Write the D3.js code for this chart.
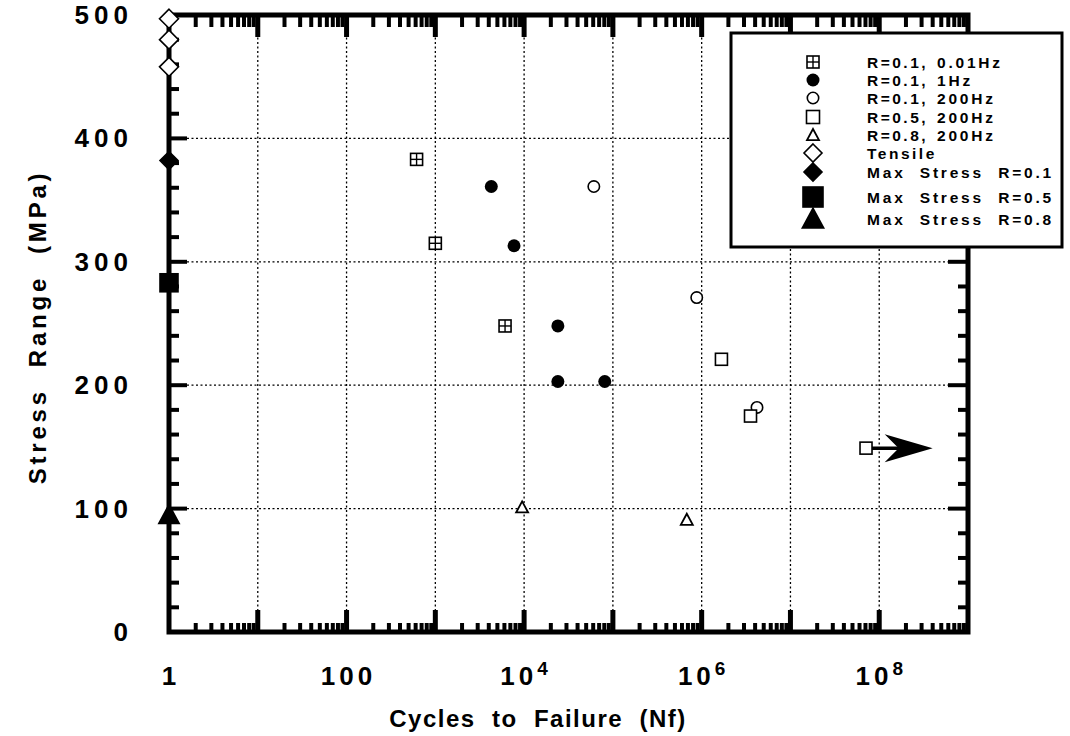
<!DOCTYPE html>
<html>
<head>
<meta charset="utf-8">
<script src="https://cdn.jsdelivr.net/npm/d3@7"></script>
<style>
  body { margin: 0; background: #fff; }
  svg text { font-family: "Liberation Sans", Arial, sans-serif; font-weight: bold; fill: #000; }
</style>
</head>
<body>
<div id="viz"></div>
<script>
// Data (cycles, stress range in MPa)
const cycles001Hz = [615, 1000, 6100]
const stress001Hz = [383, 315, 248]
const cycles1Hz = [4270, 7700, 24000, 24000, 81000]
const stress1Hz = [361, 313, 248, 203, 203]
const cycles200Hz = [61000, 880000, 4.2e6]
const stress200Hz = [361, 271, 182]
const cyclesR05 = [1.67e6, 3.55e6, 7.1e7]
const stressR05 = [221, 175, 149]
const cyclesR08 = [9500, 680000]
const stressR08 = [101, 91]
const tensileStress = [497, 480, 458]
const maxStress = [382, 283, 95]        // R=0.1, R=0.5, R=0.8 plotted at N=1
const runoutEnd = 4e8                  // arrow tip for the run-out specimen

const xLabelExps = [0, 2, 4, 6, 8]
const yTicks = [0, 100, 200, 300, 400, 500]

const legendLabels = [
  ['R=0.1,', '0.01Hz'], ['R=0.1,', '1Hz'], ['R=0.1,', '200Hz'],
  ['R=0.5,', '200Hz'], ['R=0.8,', '200Hz'], ['Tensile', ''],
  ['Max  Stress  R=0.1', ''], ['Max  Stress  R=0.5', ''], ['Max  Stress  R=0.8', '']
]

const W = 1070, H = 736
const pLeft = 169, pRight = 968, pTop = 15, pBottom = 632

var x = d3.scaleLog().domain([1, 1e9]).range([pLeft, pRight])
var y = d3.scaleLinear().domain([0, 500]).range([pBottom, pTop])

var svg = d3.select('#viz').append('svg')
    .attr('width', W).attr('height', H)

// grid
var grid = svg.append('g')
    .attr('stroke', '#000').attr('stroke-width', 1.3).attr('stroke-dasharray', '2,2.5')
d3.range(1, 9).forEach(e => {
    grid.append('line')
        .attr('x1', x(Math.pow(10, e))).attr('x2', x(Math.pow(10, e)))
        .attr('y1', pTop).attr('y2', pBottom)
})
;[100, 200, 300, 400].forEach(v => {
    grid.append('line')
        .attr('x1', pLeft).attr('x2', pRight)
        .attr('y1', y(v)).attr('y2', y(v))
})

// ticks on all four sides, pointing inward
var ticks = svg.append('g').attr('stroke', '#000')
d3.range(0, 9).forEach(e => {
    for (let m = 1; m <= 9; m++) {
        let v = m * Math.pow(10, e)
        if (v === 1) continue
        let major = m === 1
        let xx = x(v)
        ticks.append('line').attr('x1', xx).attr('x2', xx)
            .attr('y1', pBottom).attr('y2', pBottom - (major ? 22 : 9))
            .attr('stroke-width', major ? 5 : 4)
        ticks.append('line').attr('x1', xx).attr('x2', xx)
            .attr('y1', pTop).attr('y2', pTop + (major ? 22 : 12))
            .attr('stroke-width', major ? 5 : 4)
    }
})
d3.range(20, 500, 20).forEach(v => {
    let major = v % 100 === 0
    ticks.append('line').attr('x1', pLeft).attr('x2', pLeft + (major ? 18 : 10))
        .attr('y1', y(v)).attr('y2', y(v)).attr('stroke-width', 4)
    ticks.append('line').attr('x1', pRight).attr('x2', pRight - (major ? 20 : 10))
        .attr('y1', y(v)).attr('y2', y(v)).attr('stroke-width', 4)
})

// frame
svg.append('rect')
    .attr('x', pLeft).attr('y', pTop)
    .attr('width', pRight - pLeft).attr('height', pBottom - pTop)
    .attr('fill', 'none').attr('stroke', '#000').attr('stroke-width', 5)

// tick labels
svg.append('g').selectAll('text')
    .data(yTicks).enter().append('text')
    .attr('x', 133).attr('y', d => y(d) + 9)
    .attr('text-anchor', 'end')
    .attr('font-size', 26).attr('letter-spacing', 5)
    .text(d => d)

var xl = svg.append('g').selectAll('text')
    .data(xLabelExps).enter().append('text')
    .attr('x', d => x(Math.pow(10, d)) + 2)
    .attr('y', 685)
    .attr('text-anchor', 'middle')
    .attr('font-size', 26).attr('letter-spacing', 4)
xl.each(function (d) {
    let t = d3.select(this)
    if (d === 0) t.text('1')
    else if (d === 2) t.text('100')
    else {
        t.append('tspan').text('10')
        t.append('tspan').attr('dy', -10).attr('font-size', 19).text(d)
    }
})

// axis titles
svg.append('text')
    .attr('x', 538).attr('y', 727)
    .attr('text-anchor', 'middle')
    .attr('font-size', 24).attr('letter-spacing', 1.5)
    .style('white-space', 'pre')
    .text('Cycles  to  Failure  (Nf)')
svg.append('text')
    .attr('transform', 'translate(46,327) rotate(-90)')
    .attr('text-anchor', 'middle')
    .attr('font-size', 24).attr('letter-spacing', 3.8)
    .style('white-space', 'pre')
    .text('Stress  Range  (MPa)')

// marker drawing helpers
function marker(g, type, cx, cy, s) {
    let h = s / 2
    if (type === 'grid') {
        g.append('rect').attr('x', cx - h).attr('y', cy - h).attr('width', s).attr('height', s)
            .attr('fill', '#fff').attr('stroke', '#000').attr('stroke-width', 1.6)
        g.append('line').attr('x1', cx).attr('x2', cx).attr('y1', cy - h).attr('y2', cy + h)
            .attr('stroke', '#000').attr('stroke-width', 1.4)
        g.append('line').attr('x1', cx - h).attr('x2', cx + h).attr('y1', cy).attr('y2', cy)
            .attr('stroke', '#000').attr('stroke-width', 1.4)
    } else if (type === 'dot') {
        g.append('circle').attr('cx', cx).attr('cy', cy).attr('r', h).attr('fill', '#000')
    } else if (type === 'ring') {
        g.append('circle').attr('cx', cx).attr('cy', cy).attr('r', h - 0.8)
            .attr('fill', '#fff').attr('stroke', '#000').attr('stroke-width', 1.6)
    } else if (type === 'square' || type === 'fsquare') {
        g.append('rect').attr('x', cx - h).attr('y', cy - h).attr('width', s).attr('height', s)
            .attr('fill', type === 'fsquare' ? '#000' : '#fff')
            .attr('stroke', '#000').attr('stroke-width', 1.6)
    } else if (type === 'tri' || type === 'ftri') {
        g.append('path')
            .attr('d', `M${cx},${cy - h}L${cx + h},${cy + h * 0.85}L${cx - h},${cy + h * 0.85}Z`)
            .attr('fill', type === 'ftri' ? '#000' : '#fff')
            .attr('stroke', '#000').attr('stroke-width', 1.8).attr('stroke-linejoin', 'miter')
    } else if (type === 'diamond' || type === 'fdiamond') {
        g.append('path')
            .attr('d', `M${cx},${cy - h}L${cx + h},${cy}L${cx},${cy + h}L${cx - h},${cy}Z`)
            .attr('fill', type === 'fdiamond' ? '#000' : '#fff')
            .attr('stroke', '#000').attr('stroke-width', 1.6)
    }
}

var pts = svg.append('g')
// run-out arrow
pts.append('line')
    .attr('x1', x(cyclesR05[2])).attr('x2', x(runoutEnd) - 30)
    .attr('y1', y(stressR05[2])).attr('y2', y(stressR05[2]))
    .attr('stroke', '#000').attr('stroke-width', 3.5)
pts.append('path')
    .attr('d', () => {
        let tx = x(runoutEnd), ty = y(stressR05[2])
        return `M${tx},${ty}L${tx - 48},${ty - 14}L${tx - 34},${ty}L${tx - 48},${ty + 14}Z`
    })
    .attr('fill', '#000')

cycles001Hz.forEach((n, i) => marker(pts, 'grid', x(n), y(stress001Hz[i]), 12))
cycles1Hz.forEach((n, i) => marker(pts, 'dot', x(n), y(stress1Hz[i]), 13))
cycles200Hz.forEach((n, i) => marker(pts, 'ring', x(n), y(stress200Hz[i]), 13))
cyclesR05.forEach((n, i) => marker(pts, 'square', x(n), y(stressR05[i]), 12))
cyclesR08.forEach((n, i) => marker(pts, 'tri', x(n), y(stressR08[i]), 12))
tensileStress.forEach(s => marker(pts, 'diamond', x(1), y(s), 19))
marker(pts, 'fdiamond', x(1), y(maxStress[0]), 18)
marker(pts, 'fsquare', x(1), y(maxStress[1]), 18)
marker(pts, 'ftri', x(1), y(maxStress[2]), 20)

// legend
var lg = svg.append('g')
lg.append('rect')
    .attr('x', 731).attr('y', 33).attr('width', 331).attr('height', 214)
    .attr('fill', '#fff').attr('stroke', '#000').attr('stroke-width', 3)
const legendTypes = ['grid', 'dot', 'ring', 'square', 'tri', 'diamond', 'fdiamond', 'fsquare', 'ftri']
const legendSizes = [12, 13, 13, 13, 12, 18, 18, 20, 21]
const legendRows = [62, 80, 98, 117, 135, 153, 172, 197, 219]
legendTypes.forEach((t, i) => {
    marker(lg, t, 813, legendRows[i], legendSizes[i])
    lg.append('text')
        .attr('x', 867).attr('y', legendRows[i] + 5.5)
        .attr('font-size', 15.5).attr('letter-spacing', i >= 6 ? 2.8 : 2.5)
        .style('white-space', 'pre')
        .text(legendLabels[i][0])
    if (legendLabels[i][1]) {
        lg.append('text')
            .attr('x', 937).attr('y', legendRows[i] + 5.5)
            .attr('font-size', 15.5).attr('letter-spacing', 2.8)
            .text(legendLabels[i][1])
    }
})
</script>
</body>
</html>
